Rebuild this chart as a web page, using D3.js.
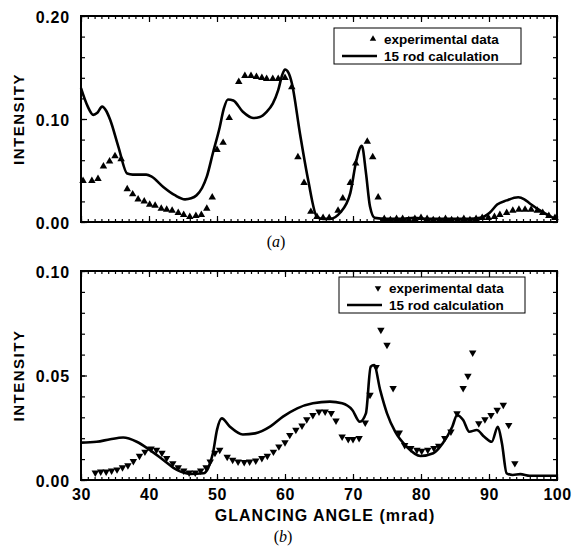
<!DOCTYPE html>
<html>
<head>
<meta charset="utf-8">
<script src="https://cdn.jsdelivr.net/npm/d3@7"></script>
<style>
	body { margin: 0; background: #fff; }
	text { font-family: "Liberation Sans", Arial, sans-serif; font-weight: bold; fill: #000; }
</style>
</head>
<body>
<svg id="canvas" width="574" height="549"></svg>
<script>
// panel (a) - experimental points, [mrad, intensity]
var expA = [
	[30.3,0.040],[31.6,0.040],[32.5,0.042],[33.3,0.054],[34.2,0.059],[35.0,0.064],[35.9,0.061],
	[36.8,0.032],[37.6,0.027],[38.4,0.022],[39.3,0.020],[40.1,0.017],[40.9,0.016],[41.8,0.013],
	[42.6,0.012],[43.4,0.011],[44.3,0.009],[45.1,0.007],[46.0,0.005],[46.9,0.006],[47.7,0.007],
	[48.5,0.013],[49.3,0.024],[50.0,0.070],[50.9,0.077],[51.8,0.101],[53.2,0.136],[54.1,0.142],
	[55.0,0.142],[55.8,0.141],[56.6,0.140],[57.3,0.139],[58.2,0.139],[59.0,0.139],[60.0,0.140],
	[61.0,0.131],[61.9,0.063],[62.8,0.038],[63.8,0.010],[64.7,0.005],[65.6,0.004],[66.5,0.004],
	[67.8,0.011],[68.5,0.023],[69.6,0.038],[70.4,0.057],[72.1,0.078],[72.9,0.063],[73.7,0.024],
	[74.6,0.003],[75.5,0.002],[76.4,0.003],[77.3,0.003],[78.2,0.002],[79.1,0.003],[80.0,0.004],
	[80.9,0.003],[81.8,0.002],[82.7,0.002],[83.6,0.003],[84.5,0.002],[85.4,0.002],[86.3,0.003],
	[87.2,0.002],[88.1,0.003],[89.0,0.004],[89.9,0.004],[90.8,0.005],[91.6,0.007],[92.6,0.009],
	[93.5,0.011],[94.4,0.012],[95.3,0.012],[96.2,0.012],[97.1,0.011],[97.9,0.009],[98.8,0.006],
	[99.7,0.004]
];

// panel (a) - 15 rod calculation
var calcA = [
	[30.0,0.130],[31.0,0.112],[31.8,0.104],[32.4,0.106],[33.1,0.112],[33.7,0.108],[34.3,0.099],
	[35.5,0.073],[36.8,0.047],[37.6,0.046],[38.7,0.046],[39.6,0.046],[40.4,0.044],[42.1,0.034],
	[43.8,0.026],[45.3,0.022],[46.2,0.023],[47.0,0.026],[47.8,0.033],[48.5,0.044],[49.4,0.067],
	[50.4,0.092],[51.0,0.110],[51.6,0.119],[52.4,0.118],[53.8,0.107],[55.3,0.101],[56.3,0.102],
	[57.3,0.107],[58.2,0.115],[59.0,0.128],[59.6,0.143],[60.0,0.148],[60.5,0.145],[61.0,0.135],
	[62.2,0.086],[63.4,0.041],[64.7,0.005],[65.6,0.003],[66.6,0.003],[68.1,0.009],[69.6,0.028],
	[70.5,0.060],[71.3,0.074],[71.9,0.048],[72.5,0.015],[73.2,0.004],[75.0,0.003],[77.0,0.003],
	[79.0,0.004],[81.0,0.003],[83.0,0.003],[85.0,0.003],[87.0,0.003],[88.7,0.004],[90.1,0.009],
	[91.2,0.017],[92.6,0.021],[94.3,0.024],[95.2,0.022],[96.0,0.018],[97.8,0.010],[99.7,0.003]
];

// panel (b) - experimental points
var expB = [
	[32.1,0.0035],[32.9,0.004],[33.7,0.004],[34.5,0.0045],[35.3,0.005],[36.1,0.006],[36.9,0.007],
	[37.7,0.009],[38.6,0.0115],[39.4,0.0135],[40.3,0.015],[41.1,0.0144],[41.9,0.013],[42.6,0.0105],
	[43.5,0.008],[44.3,0.006],[45.1,0.0045],[45.9,0.0035],[46.8,0.0035],[47.6,0.0045],[48.4,0.006],
	[49.0,0.0088],[49.7,0.013],[50.4,0.0144],[51.5,0.011],[52.3,0.0096],[53.1,0.0088],[54.0,0.0085],
	[54.8,0.0088],[55.7,0.0092],[56.6,0.0104],[57.4,0.0115],[58.3,0.0135],[59.1,0.016],[60.0,0.018],
	[60.7,0.0215],[61.6,0.024],[62.5,0.026],[63.2,0.029],[64.1,0.031],[65.0,0.0327],[65.9,0.0327],
	[66.8,0.032],[67.5,0.0284],[68.4,0.0207],[69.3,0.0195],[70.0,0.0195],[70.9,0.020],[71.8,0.0274],
	[72.5,0.0407],[73.4,0.054],[74.1,0.0718],[75.0,0.0646],[75.9,0.0439],[76.8,0.0226],[77.6,0.0167],
	[78.5,0.0152],[79.4,0.0144],[80.1,0.0139],[81.0,0.0144],[81.9,0.0152],[82.6,0.0163],[83.5,0.020],
	[84.4,0.0231],[85.3,0.0319],[86.2,0.0439],[86.9,0.0498],[87.6,0.0609],[88.5,0.0271],[89.4,0.029],
	[90.3,0.031],[91.2,0.0335],[92.1,0.0359],[92.9,0.0263],[93.8,0.008]
];

// panel (b) - 15 rod calculation
var calcB = [
	[30.0,0.0179],[32.3,0.0183],[34.3,0.0195],[36.2,0.0203],[38.2,0.0183],[40.1,0.0144],[42.1,0.0096],
	[44.1,0.0048],[46.0,0.0029],[48.0,0.0032],[48.7,0.0057],[49.4,0.0128],[50.0,0.024],[50.7,0.0295],
	[51.9,0.0255],[53.8,0.0218],[55.6,0.0223],[57.8,0.0255],[59.7,0.0303],[61.8,0.0343],[64.1,0.0367],
	[66.6,0.0375],[68.4,0.0367],[69.9,0.0335],[71.0,0.0279],[71.9,0.0319],[72.6,0.0542],[73.1,0.055],
	[74.0,0.043],[75.0,0.0319],[76.2,0.0231],[77.9,0.0159],[79.9,0.0115],[81.8,0.0128],[83.2,0.0176],
	[84.6,0.0255],[85.3,0.031],[86.2,0.0287],[87.1,0.0231],[88.2,0.0239],[89.3,0.0207],[90.4,0.0183],
	[91.3,0.0255],[91.9,0.0176],[92.6,0.0032],[93.5,0.0024],[94.6,0.0028],[96.0,0.002],[100.0,0.002]
];

var xTicks = [30, 40, 50, 60, 70, 80, 90, 100];
var yTicksA = [0.00, 0.10, 0.20];
var yTicksB = [0.00, 0.05, 0.10];
var legendLabels = ["experimental data", "15 rod calculation"];

var svg = d3.select("#canvas");

function panel(opt) {
	var x = d3.scaleLinear().domain([30, 100]).range([81, 557]);
	var y = d3.scaleLinear().domain([0, opt.ymax]).range([opt.bottom, opt.top]);
	var g = svg.append("g");

	// minor ticks, all four sides, pointing inward
	g.append("g").attr("transform", "translate(0," + opt.bottom + ")")
		.call(d3.axisBottom(x).tickValues(d3.range(30, 101, 1)).tickSize(-3).tickFormat(""));
	g.append("g").attr("transform", "translate(0," + opt.top + ")")
		.call(d3.axisTop(x).tickValues(d3.range(30, 101, 1)).tickSize(-3).tickFormat(""));
	g.append("g").attr("transform", "translate(81,0)")
		.call(d3.axisLeft(y).tickValues(opt.yminor).tickSize(-4).tickFormat(""));
	g.append("g").attr("transform", "translate(557,0)")
		.call(d3.axisRight(y).tickValues(opt.yminor).tickSize(-4).tickFormat(""));

	// major ticks (+ labels)
	var bx = g.append("g").attr("transform", "translate(0," + opt.bottom + ")")
		.call(d3.axisBottom(x).tickValues(xTicks).tickSize(-6).tickPadding(9)
			.tickFormat(opt.xlabels ? d3.format("d") : ""));
	bx.selectAll("text").attr("font-size", 16).attr("letter-spacing", 0.5);
	g.append("g").attr("transform", "translate(0," + opt.top + ")")
		.call(d3.axisTop(x).tickValues(xTicks).tickSize(-6).tickFormat(""));
	var ly = g.append("g").attr("transform", "translate(81,0)")
		.call(d3.axisLeft(y).tickValues(opt.ymajor).tickSize(-6).tickPadding(11).tickFormat(d3.format(".2f")));
	ly.selectAll("text").attr("font-size", 16).attr("letter-spacing", 0.8).attr("dy", "0.4em");

	g.selectAll(".domain").remove();
	g.selectAll(".tick line").attr("stroke", "#000").attr("stroke-width", 1.2);
	g.selectAll(".tick text").attr("fill", "#000").style("font-family", "Liberation Sans").style("font-weight", "bold");

	g.append("rect")
		.attr("x", 81).attr("y", opt.top)
		.attr("width", 476).attr("height", opt.bottom - opt.top)
		.attr("fill", "none").attr("stroke", "#000").attr("stroke-width", 2);

	var line = d3.line()
		.x(function(d) { return x(d[0]); })
		.y(function(d) { return y(d[1]); })
		.curve(d3.curveMonotoneX);

	g.append("path")
		.datum(opt.calc)
		.attr("d", line)
		.attr("fill", "none").attr("stroke", "#000").attr("stroke-width", 2.6)
		.attr("stroke-linejoin", "round");

	var sym = d3.symbol(d3.symbolTriangle).size(24);
	g.selectAll(".pt")
		.data(opt.exp)
		.enter().append("path")
		.attr("d", sym)
		.attr("transform", function(d) {
			return "translate(" + x(d[0]) + "," + y(d[1]) + ")" + (opt.down ? " rotate(180)" : "");
		})
		.attr("fill", "#000");

	// legend
	var lg = g.append("g").attr("transform", "translate(" + opt.legend[0] + "," + opt.legend[1] + ")");
	lg.append("rect").attr("x", 0).attr("y", 0).attr("width", opt.legend[2]).attr("height", 36)
		.attr("fill", "#fff").attr("stroke", "#000").attr("stroke-width", 1);
	lg.append("path").attr("d", d3.symbol(d3.symbolTriangle).size(18))
		.attr("transform", "translate(" + (opt.legendKey + 31) + ",11)" + (opt.down ? " rotate(180)" : ""));
	lg.append("line").attr("x1", opt.legendKey).attr("x2", opt.legendKey + 35)
		.attr("y1", 28).attr("y2", 28).attr("stroke", "#000").attr("stroke-width", 2.6);
	lg.selectAll(".lt").data(legendLabels).enter().append("text")
		.attr("x", opt.legendKey + 42).attr("y", function(d, i) { return 16 + i * 17; })
		.attr("font-size", 13.5)
		.text(function(d) { return d; });

	svg.append("text")
		.attr("transform", "translate(24," + ((opt.top + opt.bottom) / 2) + ") rotate(-90)")
		.attr("text-anchor", "middle")
		.attr("font-size", 15).attr("letter-spacing", 1.5)
		.text("INTENSITY");

	svg.append("text")
		.attr("x", opt.tag[0]).attr("y", opt.tag[1])
		.attr("text-anchor", "middle")
		.style("font-family", "Liberation Serif").style("font-weight", "normal")
		.attr("font-size", 16)
		.text(opt.tagText)
		.each(function() {
			// italic letter inside upright parentheses
			var t = d3.select(this);
			t.text("");
			t.append("tspan").text("(");
			t.append("tspan").attr("font-style", "italic").text(opt.tagText);
			t.append("tspan").text(")");
		});
}

panel({
	top: 16, bottom: 222, ymax: 0.2,
	yminor: d3.range(0, 0.2001, 0.02), ymajor: yTicksA,
	calc: calcA, exp: expA, down: false, xlabels: false,
	legend: [334, 28, 187], legendKey: 8,
	tag: [276, 247], tagText: "a"
});

panel({
	top: 271, bottom: 480, ymax: 0.1,
	yminor: d3.range(0, 0.1001, 0.01), ymajor: yTicksB,
	calc: calcB, exp: expB, down: true, xlabels: true,
	legend: [339, 277, 186], legendKey: 8,
	tag: [283, 542], tagText: "b"
});

svg.append("text")
	.attr("x", 325).attr("y", 521)
	.attr("text-anchor", "middle")
	.attr("font-size", 16).attr("letter-spacing", 1)
	.text("GLANCING ANGLE (mrad)");
</script>
</body>
</html>
